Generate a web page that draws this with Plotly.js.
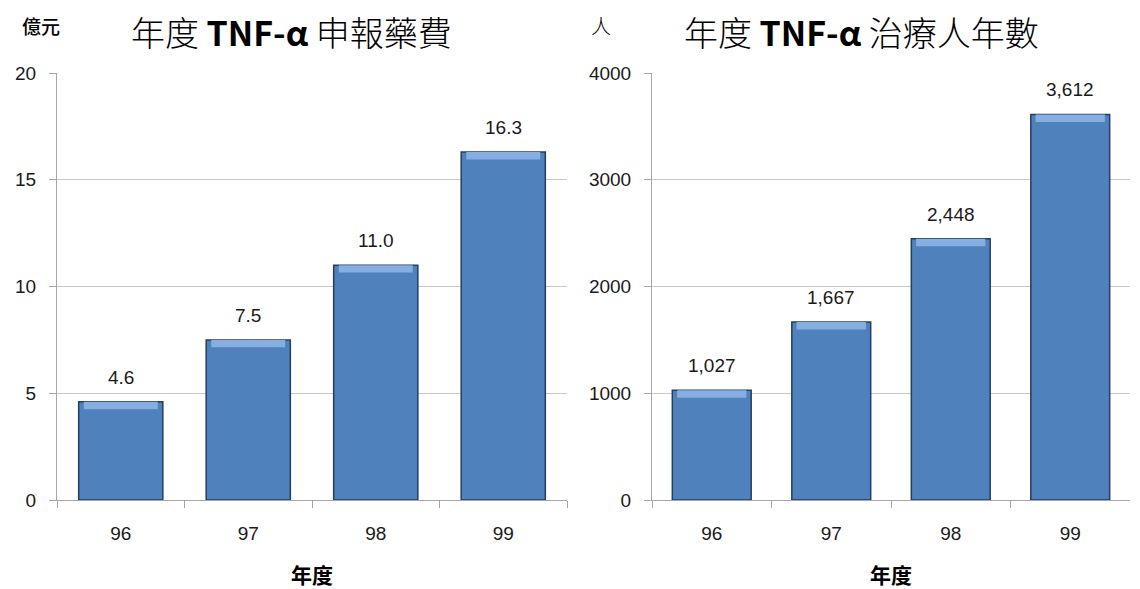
<!DOCTYPE html>
<html>
<head>
<meta charset="utf-8">
<script src="https://cdn.plot.ly/plotly-3.0.1.min.js"></script>
<style>html,body{margin:0;padding:0;background:#fff;}#chart{width:1140px;height:589px;}</style>
</head>
<body>
<div id="chart"></div>
<script>
const years = ['96', '97', '98', '99'];
const drugCost = [4.6, 7.5, 11.0, 16.3];           // 億元
const drugCostLabels = ['4.6', '7.5', '11.0', '16.3'];
const patientYears = [1027, 1667, 2448, 3612];     // 人
const patientLabels = ['1,027', '1,667', '2,448', '3,612'];

const leftTitle = '年度 <b>TNF-α</b> 申報藥費';
const rightTitle = '年度 <b>TNF-α</b> 治療人年數';
const leftUnit = '億元';
const rightUnit = '人';
const xTitle = '<b>年度</b>';

const FONT = 'Liberation Sans, Noto Sans CJK TC, sans-serif';
const CJK = 'Noto Sans CJK TC, Liberation Sans, sans-serif';
const barColor = '#4F81BD';
const barLine = '#243F60';
const capColor = '#86AEE0';

function mainBar(y, xa, ya) {
  return {
    type: 'bar', x: years, y: y, xaxis: xa, yaxis: ya,
    width: 0.66,
    marker: {color: barColor, line: {color: barLine, width: 1.5}},
    hoverinfo: 'x+y', showlegend: false
  };
}
function capBar(y, cap, xa, ya) {
  return {
    type: 'bar', x: years, y: y.map(() => cap), base: y.map(v => v - cap),
    xaxis: xa, yaxis: ya, width: 0.58,
    marker: {color: capColor, line: {width: 0}},
    hoverinfo: 'skip', showlegend: false
  };
}
// category axes: annotation x is the category index
function labels(y, txt, xa, ya) {
  return y.map((v, i) => ({
    x: i, y: v, xref: xa, yref: ya, text: txt[i], showarrow: false,
    yanchor: 'bottom', yshift: 12, font: {family: FONT, size: 19, color: '#1a1a1a'}
  }));
}

const data = [
  mainBar(drugCost, 'x', 'y'),
  capBar(drugCost, 0.35, 'x', 'y'),
  mainBar(patientYears, 'x2', 'y2'),
  capBar(patientYears, 70, 'x2', 'y2')
];

const axX = {
  type: 'category', range: [-0.5, 3.5],
  showline: true, linecolor: '#A6A6A6', linewidth: 1,
  ticks: 'outside', tickson: 'boundaries', ticklen: 7, tickcolor: '#A6A6A6',
  tickfont: {family: FONT, size: 19, color: '#1a1a1a'}, ticklabelstandoff: 16,
  showgrid: false, automargin: false, fixedrange: true,
  title: {text: xTitle, font: {family: CJK, size: 21, color: '#000'}, standoff: 26}
};
const axY = {
  showline: true, linecolor: '#A6A6A6', linewidth: 1,
  ticks: 'outside', ticklen: 7, tickcolor: '#A6A6A6',
  tickfont: {family: FONT, size: 19, color: '#1a1a1a'}, ticklabelstandoff: 9,
  showgrid: true, gridcolor: '#C8C8C8', gridwidth: 1,
  zeroline: false, automargin: false, fixedrange: true
};

const layout = {
  width: 1140, height: 589,
  margin: {l: 0, r: 0, t: 0, b: 0},
  paper_bgcolor: '#fff', plot_bgcolor: '#fff',
  barmode: 'overlay',
  font: {family: FONT},
  xaxis: Object.assign({}, axX, {domain: [57/1140, 567/1140], anchor: 'y'}),
  yaxis: Object.assign({}, axY, {domain: [89/589, 516/589], range: [0, 20], dtick: 5, anchor: 'x'}),
  xaxis2: Object.assign({}, axX, {domain: [652/1140, 1130/1140], anchor: 'y2'}),
  yaxis2: Object.assign({}, axY, {domain: [89/589, 516/589], range: [0, 4000], dtick: 1000, anchor: 'x2'}),
  annotations: [
    {text: leftTitle, xref: 'paper', yref: 'paper', x: 291/1140, y: 1 - 32/589, xanchor: 'center', yanchor: 'middle', showarrow: false, font: {family: CJK, size: 34, color: '#000', weight: 300}},
    {text: rightTitle, xref: 'paper', yref: 'paper', x: 861/1140, y: 1 - 32/589, xanchor: 'center', yanchor: 'middle', showarrow: false, font: {family: CJK, size: 34, color: '#000', weight: 300}},
    {text: leftUnit, xref: 'paper', yref: 'paper', x: 41/1140, y: 1 - 26/589, xanchor: 'center', yanchor: 'middle', showarrow: false, font: {family: CJK, size: 19, color: '#000', weight: 500}},
    {text: rightUnit, xref: 'paper', yref: 'paper', x: 601/1140, y: 1 - 26/589, xanchor: 'center', yanchor: 'middle', showarrow: false, font: {family: CJK, size: 20, color: '#000', weight: 300}}
  ].concat(labels(drugCost, drugCostLabels, 'x', 'y'), labels(patientYears, patientLabels, 'x2', 'y2'))
};

Plotly.newPlot('chart', data, layout, {displayModeBar: false, staticPlot: true});
</script>
</body>
</html>
